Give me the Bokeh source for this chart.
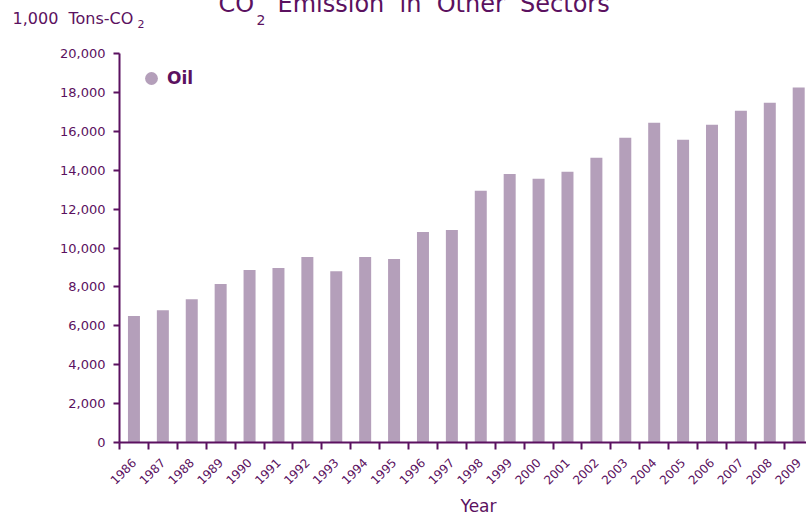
import math
from bokeh.plotting import figure
from bokeh.models import (Range1d, FixedTicker, NumeralTickFormatter, CustomJSTickFormatter,
                          Label, Legend, LegendItem)
from bokeh.embed import file_html
from bokeh.resources import INLINE

# ---- data ----
years = [str(y) for y in range(1986, 2010)]
oil = [6500, 6800, 7370, 8150, 8870, 8970, 9540, 8810, 9540, 9430, 10820, 10930,
       12940, 13810, 13560, 13920, 14640, 15670, 16440, 15570, 16340, 17060, 17470, 18250]
y_ticks = [0, 2000, 4000, 6000, 8000, 10000, 12000, 14000, 16000, 18000, 20000]
series_name = "Oil"
NB = "\u00a0"
title_main = "CO"
title_rest = "Emission" + NB + " in" + NB + " Other" + NB + " Sectors"
unit_label = "1,000" + NB + " Tons-CO"
x_title = "Year"

TEXT = "#5b1160"
BAR = "#b49fba"
FONT = "DejaVu Sans"

W, H = 806, 516
LEFT, TOP, BOTTOM = 119, 53, 442
n = len(years)
centers = [i + 0.5 for i in range(n)]
bounds = list(range(n + 1))
XMAX = 23.77
YMAX = 20000

p = figure(width=W, height=H, output_backend="svg", toolbar_location=None,
           x_range=Range1d(0, XMAX), y_range=Range1d(0, YMAX),
           min_border_left=LEFT, min_border_right=0, min_border_top=TOP,
           min_border_bottom=H - BOTTOM)
p.outline_line_color = None
p.xgrid.visible = False
p.ygrid.visible = False
p.background_fill_color = "white"
p.border_fill_color = "white"

p.vbar(x=centers, top=oil, width=0.415, color=BAR, line_color=None)

# x axis
xa = p.xaxis[0]
xa.ticker = FixedTicker(ticks=centers, minor_ticks=bounds)
xa.formatter = CustomJSTickFormatter(args=dict(labels=years),
                                     code="return labels[Math.floor(tick)] || ''")
xa.major_tick_line_color = None
xa.major_tick_out = 0
xa.major_tick_in = 0
xa.minor_tick_line_color = TEXT
xa.minor_tick_line_width = 2
xa.minor_tick_out = 7
xa.minor_tick_in = 0
xa.axis_line_color = TEXT
xa.axis_line_width = 2
xa.major_label_orientation = math.pi / 4
xa.major_label_text_font = FONT
xa.major_label_text_font_size = "12px"
xa.major_label_text_color = TEXT
xa.major_label_standoff = 11

# y axis
ya = p.yaxis[0]
ya.ticker = FixedTicker(ticks=y_ticks)
ya.formatter = NumeralTickFormatter(format="0,0")
ya.minor_tick_line_color = None
ya.major_tick_line_color = TEXT
ya.major_tick_line_width = 2
ya.major_tick_out = 6
ya.major_tick_in = 0
ya.axis_line_color = TEXT
ya.axis_line_width = 2
ya.major_label_text_font = FONT
ya.major_label_text_font_size = "13px"
ya.major_label_text_color = TEXT
ya.major_label_standoff = 8

# legend (location = bottom-left of legend box, relative to frame bottom-left)
nan = float("nan")
dummy = p.scatter(x=[nan], y=[nan], marker="circle", size=13, color=BAR, line_color=None)
legend = Legend(items=[LegendItem(label=series_name, renderers=[dummy])],
                location=(16, BOTTOM - 94), glyph_width=32, glyph_height=32, padding=0, margin=0,
                label_standoff=-2, border_line_color=None, background_fill_alpha=0,
                label_text_font=FONT, label_text_font_size="17px", label_text_font_style="bold",
                label_text_color=TEXT)
p.add_layout(legend)

# pixel -> data helpers for text placement
px_per_x = (W - LEFT) / XMAX
def dx(px):
    return (px - LEFT) / px_per_x
def dy(py):
    return (BOTTOM - py) * YMAX / (BOTTOM - TOP)

def lab(px, py, t, fs, side, align="left", style="normal"):
    # py is the wanted glyph baseline; shift for the renderer's baseline offset
    p.add_layout(Label(x=dx(px), y=dy(py - 0.4 * fs), text=t,
                       text_font=FONT, text_font_size=f"{fs}px", text_color=TEXT,
                       text_align=align, text_baseline="alphabetic", text_font_style=style), side)

lab(218, 13, title_main, 24, "left")
lab(256, 25, "2", 14, "left")
lab(277, 13, title_rest, 24, "above")
lab(12, 24, unit_label, 16, "above")
lab(137, 28, "2", 11, "left")
lab(478, 512, x_title, 17, "below", align="center")

open("out.html", "w").write(file_html(p, INLINE))
